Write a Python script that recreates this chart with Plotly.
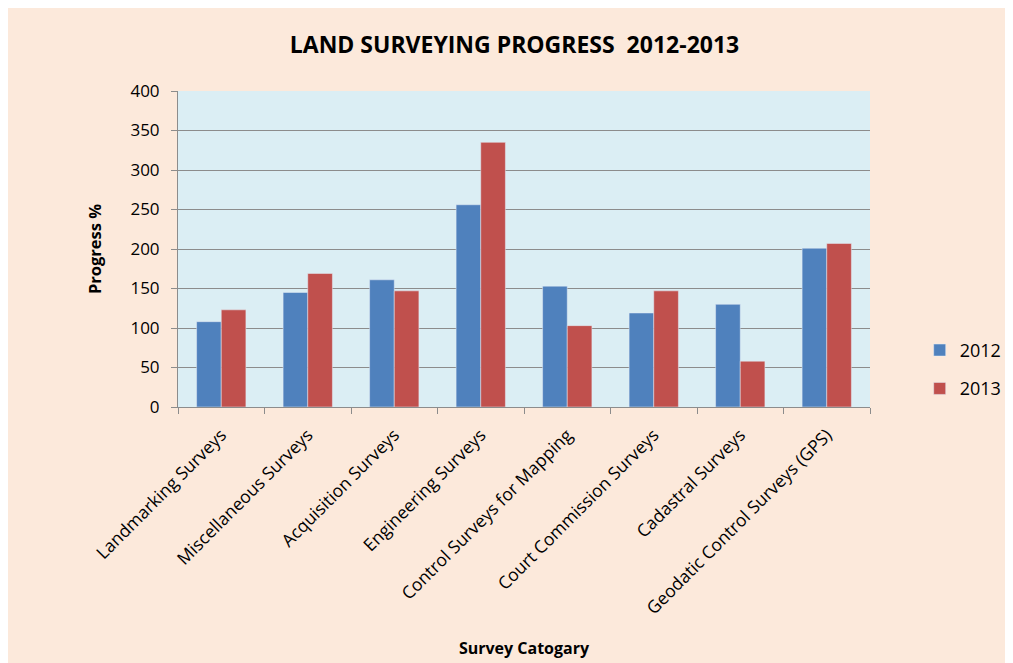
import plotly.graph_objects as go

categories = [
    'Landmarking Surveys', 'Miscellaneous Surveys', 'Acquisition Surveys',
    'Engineering Surveys', 'Control Surveys for Mapping', 'Court Commission Surveys',
    'Cadastral Surveys', 'Geodatic Control Surveys (GPS)',
]
progress_2012 = [108, 145, 161, 256, 153, 119, 130, 201]
progress_2013 = [123, 169, 147, 335, 103, 147, 58, 207]

FONT = 'Open Sans'
GRID = '#8c8c8c'

fig = go.Figure()
fig.add_trace(go.Bar(x=categories, y=progress_2012, name='2012', legendgroup='2012',
                     marker_color='#4F81BD'))
fig.add_trace(go.Bar(x=categories, y=progress_2013, name='2013', legendgroup='2013',
                     marker_color='#C0504D'))

fig.update_layout(
    width=1013, height=663,
    margin=dict(l=170, r=151, t=83, b=264, autoexpand=False),
    paper_bgcolor='#FCE9DB', plot_bgcolor='#DBEEF4',
    font=dict(family=FONT, color='#000000'),
    barmode='group', bargap=0.43, bargroupgap=0,
    title=dict(text='<b>LAND SURVEYING PROGRESS  2012-2013</b>', x=0.5, xanchor='center',
               y=0.945, yanchor='middle', font=dict(size=23, family=FONT)),
    legend=dict(xref='container', yref='container', x=0.9, y=0.455,
                xanchor='left', yanchor='middle', itemwidth=30,
                font=dict(size=18), tracegroupgap=12, bgcolor='rgba(0,0,0,0)'),
    showlegend=True,
)
fig.update_xaxes(
    tickangle=-45, tickfont=dict(size=17.5), ticks='outside', tickson='boundaries',
    ticklen=6, tickcolor=GRID, showline=True, linecolor=GRID, showgrid=False,
    ticklabelstandoff=10,
    title=dict(text='<b>Survey Catogary</b>', font=dict(size=16), standoff=24),
)
fig.update_yaxes(
    range=[0, 400], dtick=50, tickfont=dict(size=17), ticks='outside', ticklen=6,
    tickcolor=GRID, showline=True, linecolor=GRID, gridcolor=GRID, zeroline=False,
    ticklabelstandoff=8,
    title=dict(text='<b>Progress %</b>', font=dict(size=16.5), standoff=24),
)

fig.write_html('out.html')
